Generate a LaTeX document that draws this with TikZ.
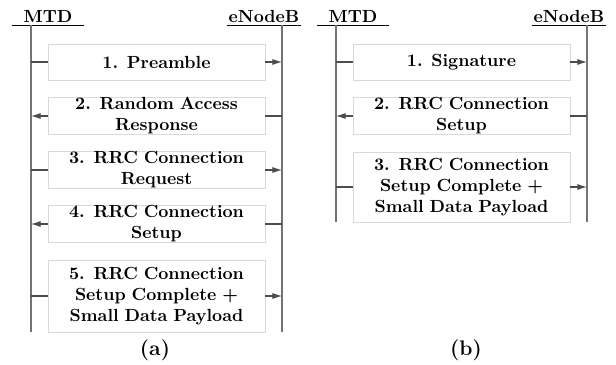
\documentclass[tikz,border=0pt]{standalone}
\usetikzlibrary{arrows.meta}

\begin{document}
\begin{tikzpicture}[font=\bfseries,
            actor/.style = {inner sep=1pt, minimum width=1.44cm, anchor=south},
            msg/.style = {draw=black!15, text width=4.34cm, align=center,
                          inner xsep=0pt, inner ysep=0pt, minimum height=0.72cm},
            lifeline/.style = {draw=black!55, line width=0.8pt},
            link/.style = {draw=black!70, line width=0.6pt},
            msgto/.style = {link, -{Latex[length=5.5pt,width=3.5pt]}},
            caption/.style = {font=\large\bfseries},
            ]
    \useasboundingbox (0,0) rectangle (12.32,-7.3);

    % (a) random access with five messages
    \node[actor] (mtdA) at (0.96,-0.5) {MTD};
    \node[actor] (enbA) at (5.28,-0.5) {eNodeB};
    \draw (mtdA.south west) -- (mtdA.south east);
    \draw (enbA.south west) -- (enbA.south east);
    \coordinate (mtdTopA) at (0.62,-0.5);
    \coordinate (mtdBotA) at (0.62,-6.64);
    \coordinate (enbTopA) at (5.64,-0.5);
    \coordinate (enbBotA) at (5.64,-6.64);
    \draw[lifeline] (mtdTopA) -- (mtdBotA);
    \draw[lifeline] (enbTopA) -- (enbBotA);

    \node[msg] (a1) at (3.13,-1.24) {1. Preamble};
    \node[msg] (a2) at (3.13,-2.32) {2. Random Access\\Response};
    \node[msg] (a3) at (3.13,-3.40) {3. RRC Connection\\Request};
    \node[msg] (a4) at (3.13,-4.48) {4. RRC Connection\\Setup};
    \node[msg, minimum height=1.44cm] (a5) at (3.13,-5.92)
        {5. RRC Connection\\Setup Complete +\\Small Data Payload};

    \draw[link] (a1.west -| mtdTopA) -- (a1.west);
    \draw[msgto] (a1.east) -- (a1.east -| enbTopA);
    \draw[link] (a2.east -| enbTopA) -- (a2.east);
    \draw[msgto] (a2.west) -- (a2.west -| mtdTopA);
    \draw[link] (a3.west -| mtdTopA) -- (a3.west);
    \draw[msgto] (a3.east) -- (a3.east -| enbTopA);
    \draw[link] (a4.east -| enbTopA) -- (a4.east);
    \draw[msgto] (a4.west) -- (a4.west -| mtdTopA);
    \draw[link] (a5.west -| mtdTopA) -- (a5.west);
    \draw[msgto] (a5.east) -- (a5.east -| enbTopA);

    \node[caption] (capA) at (3.10,-7.0) {(a)};

    % (b) shortened procedure
    \begin{scope}[xshift=6.1cm]
        \node[actor] (mtdB) at (0.96,-0.5) {MTD};
        \node[actor] (enbB) at (5.28,-0.5) {eNodeB};
        \draw (mtdB.south west) -- (mtdB.south east);
        \draw (enbB.south west) -- (enbB.south east);
        \coordinate (mtdTopB) at (0.62,-0.5);
        \coordinate (mtdBotB) at (0.62,-4.44);
        \coordinate (enbTopB) at (5.64,-0.5);
        \coordinate (enbBotB) at (5.64,-4.44);
        \draw[lifeline] (mtdTopB) -- (mtdBotB);
        \draw[lifeline] (enbTopB) -- (enbBotB);

        \node[msg] (b1) at (3.13,-1.24) {1. Signature};
        \node[msg] (b2) at (3.13,-2.32) {2. RRC Connection\\Setup};
        \node[msg, minimum height=1.4cm] (b3) at (3.13,-3.74)
            {3. RRC Connection\\Setup Complete +\\Small Data Payload};

        \draw[link] (b1.west -| mtdTopB) -- (b1.west);
        \draw[msgto] (b1.east) -- (b1.east -| enbTopB);
        \draw[link] (b2.east -| enbTopB) -- (b2.east);
        \draw[msgto] (b2.west) -- (b2.west -| mtdTopB);
        \draw[link] (b3.west -| mtdTopB) -- (b3.west);
        \draw[msgto] (b3.east) -- (b3.east -| enbTopB);

        \node[caption] (capB) at (3.22,-7.0) {(b)};
    \end{scope}
\end{tikzpicture}
\end{document}
